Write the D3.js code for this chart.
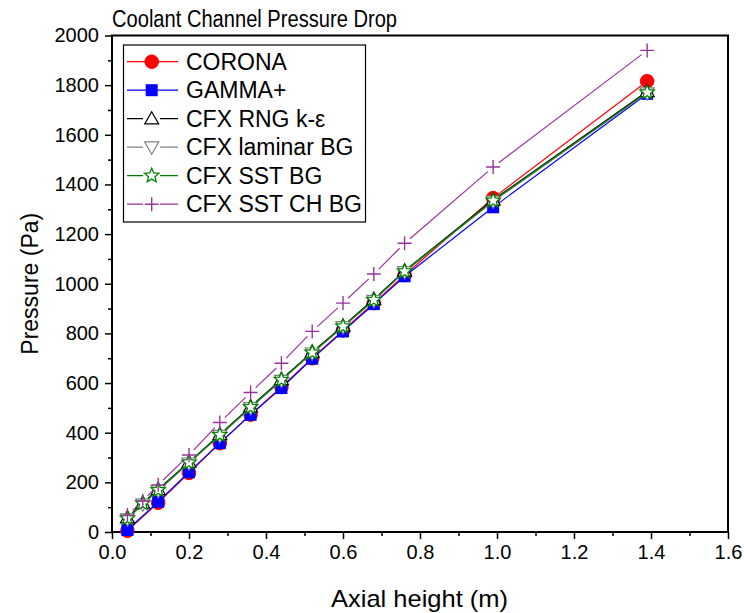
<!DOCTYPE html>
<html><head><meta charset="utf-8">
<script src="https://cdn.jsdelivr.net/npm/d3@7"></script>
<style>body{margin:0;background:#fff;}svg{display:block;font-family:"Liberation Sans",Arial,sans-serif;}</style>
</head><body>
<svg id="c" width="744" height="613"></svg>
<script>
const xCoarse = [0.04, 0.12, 0.20, 0.28, 0.36, 0.44, 0.52, 0.60, 0.68, 0.76, 0.99, 1.39];
const xFine   = [0.04, 0.08, 0.12, 0.20, 0.28, 0.36, 0.44, 0.52, 0.60, 0.68, 0.76, 0.99, 1.39];
const corona  = [5, 118, 238, 358, 473, 584, 700, 812, 922, 1035, 1345, 1816];
const gamma   = [8, 122, 241, 358, 472, 580, 698, 808, 918, 1030, 1308, 1765];
const rng     = [58, 117, 172, 282, 393, 505, 615, 725, 830, 938, 1052, 1338, 1775];
const laminar = [52, 112, 166, 277, 388, 500, 610, 720, 826, 932, 1048, 1332, 1768];
const sstBG   = [55, 115, 169, 280, 391, 503, 613, 723, 828, 935, 1050, 1335, 1771];
const sstCH   = [68, 125, 190, 310, 441, 562, 680, 808, 922, 1039, 1163, 1470, 1940];
const seriesNames = ["CORONA", "GAMMA+", "CFX RNG k-ε", "CFX laminar BG", "CFX SST BG", "CFX SST CH BG"];
const xTicks = [0.0, 0.2, 0.4, 0.6, 0.8, 1.0, 1.2, 1.4, 1.6];
const yTicks = [0, 200, 400, 600, 800, 1000, 1200, 1400, 1600, 1800, 2000];

const series = [
  {name: seriesNames[0], xs: xCoarse, ys: corona,  color: "#ff0000", marker: "circle"},
  {name: seriesNames[1], xs: xCoarse, ys: gamma,   color: "#0000ff", marker: "square"},
  {name: seriesNames[2], xs: xFine,   ys: rng,     color: "#000000", marker: "tri"},
  {name: seriesNames[3], xs: xFine,   ys: laminar, color: "#808080", marker: "tridown"},
  {name: seriesNames[4], xs: xFine,   ys: sstBG,   color: "#008000", marker: "star"},
  {name: seriesNames[5], xs: xFine,   ys: sstCH,   color: "#993399", marker: "plus"}
];

const svg = d3.select("#c");
const L = 112, R = 728, T = 35.5, B = 532;
const x = d3.scaleLinear().domain([0, 1.6]).range([L, R]);
const y = d3.scaleLinear().domain([0, 2000]).range([B, T]);

// title
svg.append("text").attr("x", 112).attr("y", 27).attr("font-size", 23)
  .attr("textLength", 285).attr("lengthAdjust", "spacingAndGlyphs").text("Coolant Channel Pressure Drop");

// axes
const xAxis = d3.axisBottom(x).tickValues(xTicks).tickFormat(d3.format(".1f")).tickSize(7).tickPadding(6);
const xMinor = d3.axisBottom(x).tickValues(d3.range(0.1, 1.6, 0.2)).tickFormat("").tickSize(4);
const yAxis = d3.axisLeft(y).tickValues(yTicks).tickFormat(d3.format("d")).tickSize(7).tickPadding(6);
const yMinor = d3.axisLeft(y).tickValues(d3.range(100, 2000, 200)).tickFormat("").tickSize(4);

function styleAxis(g){
  g.select(".domain").remove();
  g.selectAll("line").attr("stroke", "#000").attr("stroke-width", 1.5);
  g.selectAll("text").attr("font-size", 20).attr("fill", "#000").attr("font-family", "Liberation Sans, Arial, sans-serif");
}
svg.append("g").attr("transform", `translate(0,${B})`).call(xAxis).call(styleAxis);
svg.append("g").attr("transform", `translate(0,${B})`).call(xMinor).call(styleAxis);
svg.append("g").attr("transform", `translate(${L},0)`).call(yAxis).call(styleAxis);
svg.append("g").attr("transform", `translate(${L},0)`).call(yMinor).call(styleAxis);

// frame
svg.append("rect").attr("x", L).attr("y", T).attr("width", R - L).attr("height", B - T)
  .attr("fill", "none").attr("stroke", "#000").attr("stroke-width", 2);

// axis titles
svg.append("text").attr("x", 331).attr("y", 607).attr("font-size", 24)
  .attr("textLength", 177).attr("lengthAdjust", "spacingAndGlyphs").text("Axial height (m)");
svg.append("text").attr("transform", `translate(38,${(T + B) / 2}) rotate(-90)`).attr("text-anchor", "middle").attr("font-size", 23).text("Pressure (Pa)");

// markers
function drawMarker(g, type, cx, cy, color){
  if (type === "circle") {
    g.append("circle").attr("cx", cx).attr("cy", cy).attr("r", 6.8).attr("fill", color).attr("stroke", color);
  } else if (type === "square") {
    g.append("rect").attr("x", cx - 6).attr("y", cy - 6).attr("width", 12).attr("height", 12).attr("fill", color);
  } else if (type === "tri") {
    const s = 7;
    g.append("path").attr("d", `M${cx},${cy - s}L${cx + s},${cy + s * 0.75}L${cx - s},${cy + s * 0.75}Z`)
      .attr("fill", "#fff").attr("stroke", color).attr("stroke-width", 1.2);
  } else if (type === "tridown") {
    const s = 7;
    g.append("path").attr("d", `M${cx},${cy + s}L${cx + s},${cy - s * 0.75}L${cx - s},${cy - s * 0.75}Z`)
      .attr("fill", "#fff").attr("stroke", color).attr("stroke-width", 1.2);
  } else if (type === "star") {
    const pts = [];
    for (let i = 0; i < 10; i++) {
      const r = i % 2 === 0 ? 7.5 : 3.4;
      const a = -Math.PI / 2 + i * Math.PI / 5;
      pts.push([cx + r * Math.cos(a), cy + r * Math.sin(a)]);
    }
    g.append("path").attr("d", "M" + pts.map(p => p.join(",")).join("L") + "Z")
      .attr("fill", "#fff").attr("stroke", color).attr("stroke-width", 1.3);
  } else if (type === "plus") {
    const s = 7;
    g.append("path").attr("d", `M${cx - s},${cy}L${cx + s},${cy}M${cx},${cy - s}L${cx},${cy + s}`)
      .attr("stroke", color).attr("stroke-width", 1.4).attr("fill", "none");
  }
}

// data series: lines with gaps around markers
const gap = 7;
series.forEach(s => {
  const g = svg.append("g");
  const pts = s.xs.map((v, i) => [x(v), y(s.ys[i])]);
  for (let i = 0; i < pts.length - 1; i++) {
    const [x1, y1] = pts[i], [x2, y2] = pts[i + 1];
    const dx = x2 - x1, dy = y2 - y1, len = Math.hypot(dx, dy);
    if (len <= 2 * gap) continue;
    const ux = dx / len, uy = dy / len;
    g.append("line").attr("x1", x1 + ux * gap).attr("y1", y1 + uy * gap)
      .attr("x2", x2 - ux * gap).attr("y2", y2 - uy * gap)
      .attr("stroke", s.color).attr("stroke-width", 1.2);
  }
  pts.forEach(p => drawMarker(g, s.marker, p[0], p[1], s.color));
});

// legend
const lg = svg.append("g");
lg.append("rect").attr("x", 123.5).attr("y", 45).attr("width", 242).attr("height", 177)
  .attr("fill", "#fff").attr("stroke", "#000").attr("stroke-width", 1.2);
series.forEach((s, i) => {
  const cy = 61.7 + i * 28.5;
  lg.append("line").attr("x1", 127).attr("x2", 178).attr("y1", cy).attr("y2", cy)
    .attr("stroke", s.color).attr("stroke-width", 1.2);
  if (s.marker !== "circle" && s.marker !== "square") {
    lg.append("rect").attr("x", 143).attr("y", cy - 8).attr("width", 17).attr("height", 16).attr("fill", "#fff");
  }
  drawMarker(lg, s.marker, 151.7, cy, s.color);
  lg.append("text").attr("x", 186).attr("y", cy + 8).attr("font-size", 23).text(s.name);
});
</script>
</body></html>
